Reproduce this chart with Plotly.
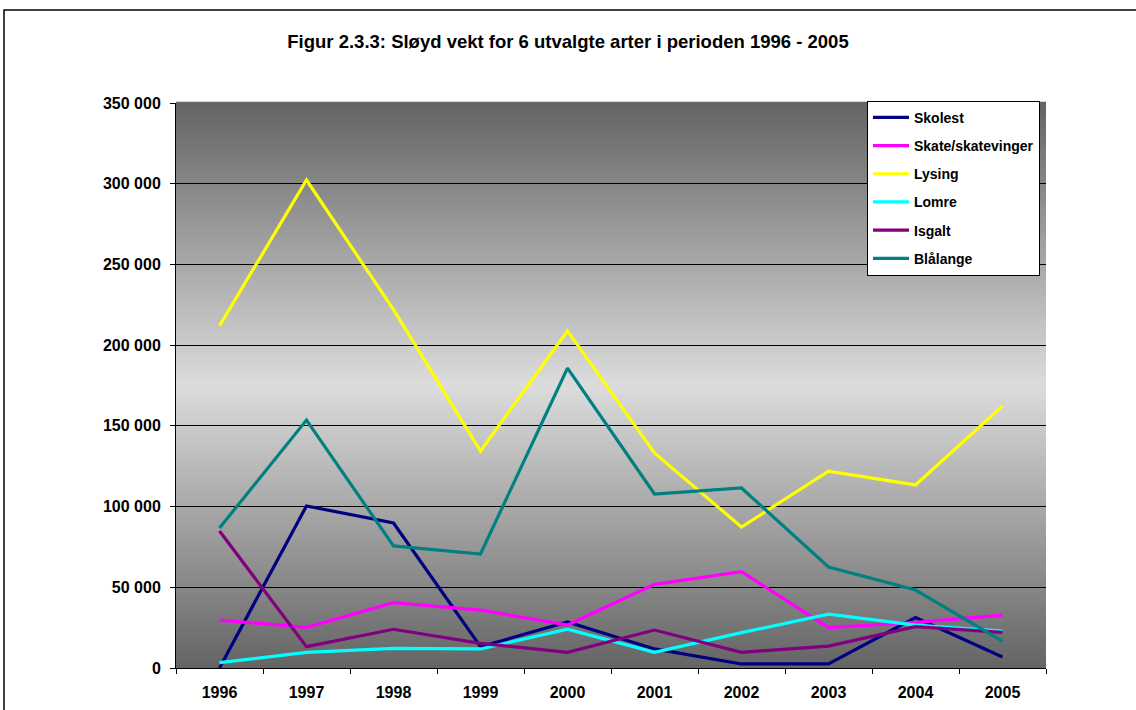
import plotly.graph_objects as go

years = ["1996", "1997", "1998", "1999", "2000", "2001", "2002", "2003", "2004", "2005"]
skolest = [0, 100400, 89800, 13200, 28500, 11800, 2500, 2500, 31200, 6800]
skate = [29700, 25200, 40500, 35900, 26600, 51800, 59700, 25000, 28300, 32800]
lysing = [211900, 302300, 222000, 134400, 208800, 133200, 87300, 122000, 113400, 162300]
lomre = [3300, 9700, 12200, 11800, 24000, 9700, 21900, 33400, 26600, 22900]
isgalt = [84900, 13200, 24000, 15300, 9700, 23500, 9700, 13600, 25600, 22100]
blalange = [86700, 153600, 75600, 70600, 185800, 107800, 111500, 62600, 48300, 16700]

series = [
    ("Skolest", skolest, "#000080"),
    ("Skate/skatevinger", skate, "#FF00FF"),
    ("Lysing", lysing, "#FFFF00"),
    ("Lomre", lomre, "#00FFFF"),
    ("Isgalt", isgalt, "#800080"),
    ("Blålange", blalange, "#008080"),
]

yticks = [0, 50000, 100000, 150000, 200000, 250000, 300000, 350000]
ytext = ["0", "50 000", "100 000", "150 000", "200 000", "250 000", "300 000", "350 000"]

FONT = "Liberation Sans, Arial, sans-serif"

fig = go.Figure()
for i, (name, vals, col) in enumerate(series):
    fig.add_trace(go.Scatter(x=years, y=vals, name=f"<b>{name}</b>", mode="lines",
                             line=dict(color=col, width=3.2), legendgroup=f"g{i}"))

# gradient background bands
shapes = []
n = 120
dark, light = 0x64, 0xDC
for k in range(n):
    t = (k + 0.5) / n
    f = 1 - abs(2 * t - 1)
    g = int(round(dark + (light - dark) * f))
    c = f"rgb({g},{g},{g})"
    shapes.append(dict(type="rect", xref="paper", yref="paper", x0=0, x1=1,
                       y0=k / n, y1=(k + 1) / n + 0.002, fillcolor=c, line=dict(width=0),
                       layer="below"))
# outer frame
shapes.append(dict(type="rect", xref="paper", yref="paper", x0=-0.1977, x1=1.2,
                   y0=-0.2, y1=1.1646, line=dict(color="black", width=1.5),
                   fillcolor="rgba(0,0,0,0)", layer="above"))

fig.update_layout(
    width=1136, height=710,
    margin=dict(l=176, r=90, t=103, b=42, autoexpand=False),
    paper_bgcolor="white", plot_bgcolor="white",
    font=dict(family=FONT, color="black"),
    title=dict(text="<b>Figur 2.3.3: Sløyd vekt for 6 utvalgte arter i perioden 1996 - 2005</b>",
               x=0.5, xanchor="center", y=1 - 42 / 710, yanchor="middle",
               font=dict(size=18.5)),
    shapes=shapes,
    showlegend=True,
    legend=dict(x=(867 - 176) / 870, y=1.004, xanchor="left", yanchor="top",
                bgcolor="white", bordercolor="black", borderwidth=1,
                font=dict(size=14, family=FONT),
                tracegroupgap=7, itemwidth=36),
)
fig.update_xaxes(type="category", tickson="boundaries", ticks="outside", ticklen=5,
                 tickcolor="black", showline=True, linecolor="black", linewidth=1,
                 showgrid=False, tickfont=dict(size=16, family=FONT),
                 tickprefix="<b>", ticksuffix="</b>", range=[-0.5, 9.5],
                 ticklabelstandoff=10, automargin=False)
fig.update_yaxes(range=[0, 350000], tickvals=yticks, ticktext=[f"<b>{t}</b>" for t in ytext],
                 ticks="outside", ticklen=5, tickcolor="black", showline=True,
                 linecolor="black", linewidth=1, showgrid=True, gridcolor="black",
                 gridwidth=1, zeroline=False, tickfont=dict(size=16, family=FONT),
                 ticklabelstandoff=6, automargin=False)

fig.write_html("out.html", config={"displayModeBar": False},
               post_script="document.body.style.margin='0px';")
